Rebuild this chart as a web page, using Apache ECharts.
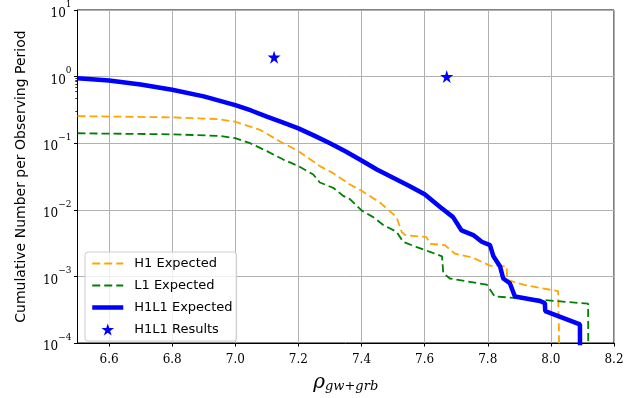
<!DOCTYPE html>
<html>
<head>
<meta charset="utf-8">
<script src="https://cdn.jsdelivr.net/npm/echarts@6/dist/echarts.min.js"></script>
<style>
  html, body { margin: 0; padding: 0; background: #fff; }
  #myChart { width: 636px; height: 398px; }
</style>
</head>
<body>
<div id="myChart"></div>
<script>
// H1 expected (orange dashed)
const h1X = [6.5, 6.8, 6.948, 7.0, 7.047, 7.079, 7.142, 7.2, 7.268, 7.31, 7.363, 7.4, 7.458, 7.511, 7.527, 7.538, 7.606, 7.617, 7.664, 7.696, 7.754, 7.807, 7.86, 7.861, 7.913, 8.023, 8.03]
const h1Y = [0.255, 0.244, 0.23, 0.21, 0.178, 0.158, 0.106, 0.076, 0.0453, 0.0355, 0.024, 0.0193, 0.0129, 0.00776, 0.00468, 0.00417, 0.00389, 0.00309, 0.00295, 0.00219, 0.0019, 0.00145, 0.00141, 0.00089, 0.00075, 0.0006, 0.00001]
// L1 expected (green dashed)
const l1X = [6.5, 6.8, 6.948, 7.0, 7.047, 7.1, 7.152, 7.2, 7.247, 7.268, 7.31, 7.342, 7.363, 7.4, 7.437, 7.469, 7.511, 7.532, 7.575, 7.617, 7.655, 7.659, 7.68, 7.797, 7.822, 7.965, 8.118, 8.119]
const l1Y = [0.141, 0.136, 0.129, 0.119, 0.1, 0.076, 0.0568, 0.0453, 0.0339, 0.0257, 0.0214, 0.0162, 0.0145, 0.0098, 0.00776, 0.0059, 0.00468, 0.00331, 0.00275, 0.00234, 0.002, 0.00112, 0.00093, 0.00075, 0.0005, 0.000447, 0.000389, 0.00001]
// H1L1 expected (blue solid)
const hlX = [6.5, 6.6, 6.7, 6.8, 6.9, 7.0, 7.05, 7.1, 7.15, 7.2, 7.25, 7.3, 7.35, 7.4, 7.45, 7.5, 7.55, 7.6, 7.65, 7.69, 7.717, 7.754, 7.781, 7.807, 7.818, 7.839, 7.849, 7.87, 7.886, 7.965, 7.981, 7.982, 8.092, 8.093]
const hlY = [0.946, 0.871, 0.76, 0.635, 0.505, 0.372, 0.31, 0.25, 0.205, 0.167, 0.13, 0.1, 0.075, 0.055, 0.04, 0.0303, 0.023, 0.0171, 0.0109, 0.00776, 0.0049, 0.00417, 0.00331, 0.00295, 0.002, 0.00141, 0.00093, 0.00079, 0.0005, 0.000427, 0.000398, 0.000302, 0.00019, 0.00001]
// H1L1 results (stars)
const resX = [7.123, 7.67]
const resY = [1.96, 1.0]
// axis ticks
const xTicks = [6.6, 6.8, 7.0, 7.2, 7.4, 7.6, 7.8, 8.0, 8.2]
const yMinorTicks = []
for (let e = -4; e < 1; e++) {
  for (let k = 2; k <= 9; k++) yMinorTicks.push(k * Math.pow(10, e))
}

const zip = (xs, ys) => xs.map((x, i) => [x, ys[i]])
const starPath = 'path://M50 0 L61.23 34.55 L97.55 34.55 L68.16 55.9 L79.39 90.45 L50 69.1 L20.61 90.45 L31.84 55.9 L2.45 34.55 L38.77 34.55 Z'
const serif = 'DejaVu Serif'
const hideDot = { opacity: 0 }

let myChart = echarts.init(document.getElementById('myChart'))
let option = {
  animation: false,
  grid: {
    left: 77.5, right: 22, top: 10, bottom: 51,
    show: true, borderColor: '#000', borderWidth: 1,
  },
  legend: {
    orient: 'vertical',
    left: 85, top: 252,
    padding: [5, 4, 5, 5],
    itemWidth: 31, itemHeight: 12, itemGap: 9,
    backgroundColor: 'rgba(255,255,255,0.8)',
    borderColor: '#cccccc', borderWidth: 1, borderRadius: 3,
    textStyle: { fontFamily: 'DejaVu Sans', fontSize: 13, color: '#000', padding: [0, 0, 0, 6] },
    data: [
      { name: 'H1 Expected', itemStyle: hideDot },
      { name: 'L1 Expected', itemStyle: hideDot },
      { name: 'H1L1 Expected', itemStyle: hideDot, lineStyle: { width: 4.5 } },
      { name: 'H1L1 Results' },
    ],
  },
  xAxis: {
    type: 'value', min: 6.5, max: 8.2,
    name: '{r|ρ}{s|gw+grb}', nameLocation: 'middle', nameGap: 30,
    nameTextStyle: {
      rich: {
        r: { fontFamily: serif, fontStyle: 'italic', fontSize: 20, color: '#000' },
        s: { fontFamily: serif, fontStyle: 'italic', fontSize: 13, color: '#000', verticalAlign: 'bottom' },
      },
    },
    axisLine: { show: true, lineStyle: { color: '#000', width: 1 } },
    axisTick: { show: true, inside: false, length: 3.5, lineStyle: { color: '#000' }, customValues: xTicks },
    axisLabel: {
      margin: 11, fontFamily: serif, fontSize: 12, color: '#000',
      customValues: xTicks, formatter: v => v.toFixed(1),
    },
    splitLine: { show: true, lineStyle: { color: '#b0b0b0', width: 1 } },
  },
  yAxis: {
    type: 'log', logBase: 10, min: 1e-4, max: 10,
    name: 'Cumulative Number per Observing Period', nameLocation: 'middle', nameGap: 49,
    nameTextStyle: { fontFamily: 'DejaVu Sans', fontSize: 14, color: '#000' },
    axisLine: { show: true, lineStyle: { color: '#000', width: 1 } },
    axisTick: { show: true, inside: false, length: 3.5, lineStyle: { color: '#000' } },
    axisLabel: {
      margin: 6, color: '#000',
      formatter: v => {
        const e = Math.round(Math.log10(v))
        return '{b|10}{e|' + (e < 0 ? '−' + (-e) : e) + '}'
      },
      rich: {
        b: { fontFamily: serif, fontSize: 12, lineHeight: 20, verticalAlign: 'bottom', color: '#000' },
        e: { fontFamily: serif, fontSize: 9, lineHeight: 12, verticalAlign: 'top', color: '#000' },
      },
    },
    splitLine: { show: true, lineStyle: { color: '#b0b0b0', width: 1 } },
    minorTick: { show: false },
  },
  series: [
    {
      name: 'H1 Expected', type: 'line', data: zip(h1X, h1Y), symbol: 'none',
      lineStyle: { color: '#ffa500', width: 1.8, type: [8, 4] }, itemStyle: { color: '#ffa500' },
    },
    {
      name: 'L1 Expected', type: 'line', data: zip(l1X, l1Y), symbol: 'none',
      lineStyle: { color: '#008000', width: 1.8, type: [8, 4] }, itemStyle: { color: '#008000' },
    },
    {
      name: 'H1L1 Expected', type: 'line', data: zip(hlX, hlY), symbol: 'none',
      lineStyle: { color: '#0000ff', width: 4.5 }, itemStyle: { color: '#0000ff' },
    },
    {
      name: 'H1L1 Results', type: 'scatter', data: zip(resX, resY),
      symbol: starPath, symbolSize: 13, itemStyle: { color: '#0000ff', opacity: 1 },
    },
  ],
}
myChart.setOption(option, true)

// minor ticks on the log axis; the axis converts in log10 space here
const x0 = myChart.convertToPixel({ xAxisIndex: 0 }, 6.5)
myChart.setOption({
  graphic: {
    elements: yMinorTicks.map(v => {
      const y = Math.round(myChart.convertToPixel({ yAxisIndex: 0 }, Math.log10(v))) + 0.5
      return {
        type: 'line', silent: true, z: 100,
        shape: { x1: x0 - 2.2, y1: y, x2: x0, y2: y },
        style: { stroke: '#000', lineWidth: 0.8 },
      }
    }),
  },
})
</script>
</body>
</html>
